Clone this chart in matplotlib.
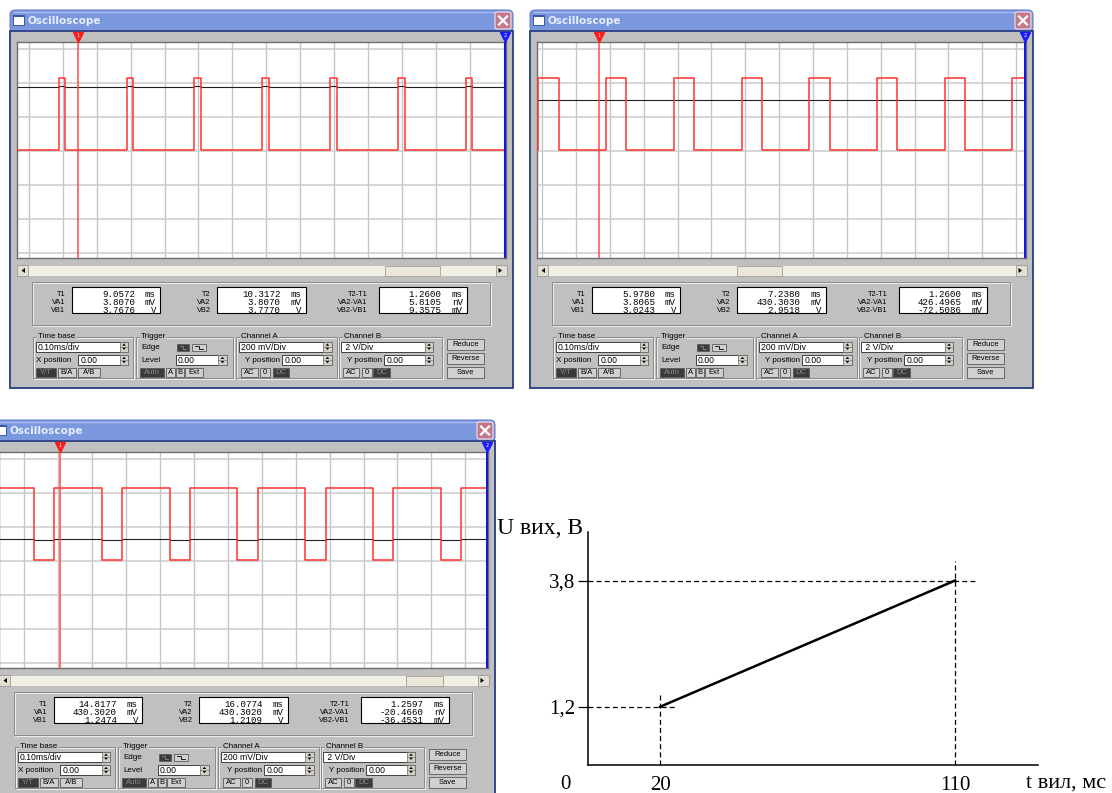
import matplotlib.pyplot as plt
from matplotlib.patches import Rectangle, FancyBboxPatch, Polygon

W, H = 1112, 793

# readouts of the three oscilloscope screenshots
t1_ms = ["9.0572", "5.9780", "14.8177"]
t2_ms = ["10.3172", "7.2380", "16.0774"]
dt_ms = ["1.2600", "1.2600", "1.2597"]
va1 = [("3.8070", "mV"), ("3.8065", "mV"), ("430.3020", "mV")]
va2 = [("3.8070", "mV"), ("430.3030", "mV"), ("430.3020", "mV")]
vb1 = [("3.7676", "V"), ("3.0243", "V"), ("1.2474", "V")]
vb2 = [("3.7770", "V"), ("2.9518", "V"), ("1.2109", "V")]
dva = [("5.8105", "nV"), ("426.4965", "mV"), ("-20.4660", "nV")]
dvb = [("9.3575", "mV"), ("-72.5086", "mV"), ("-36.4531", "mV")]

# cursor times, ms
cursor1 = [9.0572, 5.9780, 14.8177]
cursor2 = [10.3172, 7.2380, 16.0774]

# channel A square wave: rising edges (ms) and pulse width (ms)
pulse_starts = [
    [9.0, 9.2, 9.4, 9.6, 9.8, 10.0, 10.2],
    [5.8, 6.0, 6.2, 6.4, 6.6, 6.8, 7.0, 7.2],
    [14.6, 14.8, 15.0, 15.2, 15.4, 15.6, 15.8, 16.0],
]
pulse_width = [0.02, 0.06, 0.14]
va_high = 0.4303   # V
va_low = 0.0038    # V
vb_level = [3.77, 2.99, 1.27]   # channel B, V
vb_ripple = 0.05
view_ms = [(8.877, 10.319), (5.796, 7.240), (14.637, 16.079)]
grid_first_ms = [8.912, 5.811, 14.712]
volts_per_div = {"A": 0.2, "B": 2.0}

# output voltage vs fill time
t_fill = [20, 110]
u_out = [1.2, 3.8]

BODY = "#c0c0c0"
UI = "Liberation Sans"

fig = plt.figure(figsize=(W / 100, H / 100), dpi=100)
bg = fig.add_axes([0, 0, 1, 1], zorder=0)
bg.set_xlim(0, W)
bg.set_ylim(H, 0)
bg.axis("off")


def px_box(x0, y0, x1, y1):
    return [x0 / W, 1 - y1 / H, (x1 - x0) / W, (y1 - y0) / H]


def rect(x0, y0, x1, y1, fc, ec="none", lw=0.7, z=1):
    bg.add_patch(Rectangle((x0, y0), x1 - x0, y1 - y0, facecolor=fc,
                           edgecolor=ec, linewidth=lw, zorder=z))


def txt(x, y, s, fs=5.8, ha="left", color="black", **kw):
    bg.text(x, y, s, fontsize=fs, ha=ha, va="center", color=color,
            family=kw.pop("family", UI), zorder=5, **kw)


def spinner(x0, y0, x1, y1):
    rect(x0, y0, x1, y1, "#d4d0c8", "#6a6a6a", 0.5, z=3)
    ym = (y0 + y1) / 2
    cx = (x0 + x1) / 2
    bg.plot([x0, x1], [ym, ym], color="#6a6a6a", lw=0.4, zorder=4)
    bg.add_patch(Polygon([[cx - 1.8, ym - 1.0], [cx + 1.8, ym - 1.0], [cx, ym - 3.2]],
                         color="black", lw=0, zorder=4))
    bg.add_patch(Polygon([[cx - 1.8, ym + 1.0], [cx + 1.8, ym + 1.0], [cx, ym + 3.2]],
                         color="black", lw=0, zorder=4))


def field(x0, y0, x1, y1, s):
    rect(x0, y0, x1, y1, "white", "#404040", 0.7, z=2)
    txt(x0 + 2, (y0 + y1) / 2 + 0.5, s, fs=6.2)
    spinner(x1 - 8.5, y0, x1, y1)


def button(x0, y0, x1, y1, s, dark=False):
    rect(x0, y0, x1, y1, "#3a3a3a" if dark else "#d0d0d0", "#5a5a5a", 0.6, z=2)
    txt((x0 + x1) / 2, (y0 + y1) / 2 + 0.3, s, fs=5.5, ha="center",
        color="#8a8a8a" if dark else "black")


def edge_icon(x0, y0, x1, y1, color):
    # small falling/rising edge glyph drawn as a polyline
    xm = (x0 + x1) / 2
    bg.plot([x0 + 3, xm, xm, x1 - 3], [y0 + 2, y0 + 2, y1 - 2, y1 - 2],
            color=color, lw=0.6, zorder=4)


def group(x0, y0, x1, y1, label=None):
    rect(x0 + 1, y0 + 1, x1 + 1, y1 + 1, "none", "white", 0.5, z=1)
    rect(x0, y0, x1, y1, "none", "#8a8a8a", 0.7, z=1)
    if label:
        txt(x0 + 5, y0, label, fs=5.8,
            bbox=dict(facecolor=BODY, edgecolor="none", pad=0.8))


def square(starts, width, lo, hi, t0, t1):
    xs, ys = [t0], [lo]
    for s in starts:
        xs += [s, s, s + width, s + width]
        ys += [lo, hi, hi, lo]
    xs.append(t1)
    ys.append(lo)
    return xs, ys


def draw_window(i, dx, dy):
    X = lambda x: x + dx
    Y = lambda y: y + dy

    # frame and title bar
    bg.add_patch(FancyBboxPatch((X(10), Y(10)), 503, 22,
                                boxstyle="round,pad=0,rounding_size=5",
                                fc="#7b97dd", ec="#6882cc", lw=0.8, zorder=1))
    rect(X(10), Y(31), X(513), Y(388), BODY, "#34488a", 1.4, z=1)
    bg.plot([X(14), X(509)], [Y(11.5), Y(11.5)], color="#a9bdf2", lw=1, zorder=2)
    rect(X(13), Y(15), X(24), Y(25), "white", "#3a55a8", 0.7, z=2)
    rect(X(13), Y(15), X(24), Y(17), "#3a55a8", z=2)
    txt(X(28), Y(21.5), "Oscilloscope", fs=7.5, color="#e6edfb",
        weight="bold", family="DejaVu Sans")
    bg.add_patch(FancyBboxPatch((X(495), Y(12)), 16, 17,
                                boxstyle="round,pad=0,rounding_size=2",
                                fc="#c4788a", ec="#efe2ee", lw=0.8, zorder=2))
    bg.plot([X(499), X(507)], [Y(16.5), Y(24.5)], color="white", lw=1.6, zorder=3)
    bg.plot([X(499), X(507)], [Y(24.5), Y(16.5)], color="white", lw=1.6, zorder=3)

    # scrollbar
    rect(X(17), Y(265), X(507), Y(276), "#f1efe4", "#b8b8b8", 0.6, z=2)
    thumb = [(385, 440), (737, 782), (406, 443)][i]
    rect(thumb[0], Y(265.5), thumb[1], Y(275.5), "#ebe8da", "#a09e92", 0.6, z=3)
    for bx0, pts in ((17, [[25, 268], [25, 273], [21.5, 270.5]]),
                     (496, [[498.5, 268], [498.5, 273], [502, 270.5]])):
        rect(X(bx0), Y(265), X(bx0 + 11), Y(276), "#e3e0d2", "#9a9a9a", 0.6, z=3)
        bg.add_patch(Polygon([[X(p[0]), Y(p[1])] for p in pts], color="black",
                             lw=0, zorder=4))

    # readout panel
    group(X(32), Y(282), X(490), Y(325))
    boxes = [(72.3, 160), (217.3, 305.7), (379, 466.7)]
    label_x = [65, 210.7, 367.7]
    labels = [["T1", "VA1", "VB1"], ["T2", "VA2", "VB2"],
              ["T2-T1", "VA2-VA1", "VB2-VB1"]]
    values = [[(t1_ms[i], "ms"), va1[i], vb1[i]],
              [(t2_ms[i], "ms"), va2[i], vb2[i]],
              [(dt_ms[i], "ms"), dva[i], dvb[i]]]
    rows = [294.2, 302.2, 310.2]
    for b in range(3):
        rect(X(boxes[b][0]), Y(286.7), X(boxes[b][1]), Y(312.7), "white", "black", 0.8, z=2)
        for r in range(3):
            txt(X(label_x[b]), Y(rows[r]), labels[b][r], fs=5.3, ha="right")
            v, u = values[b][r]
            txt(X(boxes[b][1] - 25), Y(rows[r]), v, fs=6.6, ha="right",
                family="Liberation Mono")
            txt(X(boxes[b][1] - 4), Y(rows[r]), u, fs=6.6, ha="right",
                family="Liberation Mono")

    # control groups
    group(X(33.3), Y(336.7), X(133.3), Y(378), "Time base")
    field(X(35.7), Y(341.7), X(128.3), Y(351.7), "0.10ms/div")
    txt(X(36), Y(360.5), "X position", fs=5.8)
    field(X(78.3), Y(355), X(128.3), Y(365), "0.00")
    button(X(36), Y(367.7), X(56), Y(376.7), "Y/T", True)
    button(X(58), Y(367.7), X(76), Y(376.7), "B/A")
    button(X(78), Y(367.7), X(100), Y(376.7), "A/B")

    group(X(136), Y(336.7), X(233.3), Y(378), "Trigger")
    txt(X(141.7), Y(347.5), "Edge", fs=5.8)
    button(X(176.7), Y(344), X(189.3), Y(350.7), "", True)
    edge_icon(X(176.7), Y(344), X(189.3), Y(350.7), "#8a8a8a")
    button(X(192.3), Y(344), X(205.7), Y(350.7), "")
    edge_icon(X(192.3), Y(344), X(205.7), Y(350.7), "black")
    txt(X(141.7), Y(360.5), "Level", fs=5.8)
    field(X(175.7), Y(355), X(226.7), Y(365), "0.00")
    button(X(140), Y(367.7), X(164.3), Y(376.7), "Auto", True)
    button(X(165.7), Y(367.7), X(175), Y(376.7), "A")
    button(X(175.7), Y(367.7), X(184), Y(376.7), "B")
    button(X(185), Y(367.7), X(203.3), Y(376.7), "Ext")

    group(X(236), Y(336.7), X(336.7), Y(378), "Channel A")
    field(X(239.3), Y(341.7), X(331.7), Y(351.7), "200 mV/Div")
    txt(X(245), Y(360.5), "Y position", fs=5.8)
    field(X(282.3), Y(355), X(331.7), Y(365), "0.00")
    button(X(241), Y(367.7), X(257.7), Y(376.7), "AC")
    button(X(260), Y(367.7), X(270), Y(376.7), "0")
    button(X(272.7), Y(367.7), X(289.3), Y(376.7), "DC", True)

    group(X(339), Y(336.7), X(441.7), Y(378), "Channel B")
    field(X(341), Y(341.7), X(433.3), Y(351.7), " 2 V/Div")
    txt(X(346.7), Y(360.5), "Y position", fs=5.8)
    field(X(384.3), Y(355), X(433.3), Y(365), "0.00")
    button(X(343.3), Y(367.7), X(359.3), Y(376.7), "AC")
    button(X(361.7), Y(367.7), X(371.7), Y(376.7), "0")
    button(X(373.3), Y(367.7), X(390), Y(376.7), "DC", True)

    button(X(446.7), Y(339), X(484), Y(350), "Reduce")
    button(X(446.7), Y(353.3), X(484), Y(364), "Reverse")
    button(X(446.7), Y(366.7), X(484), Y(378), "Save")

    # screen
    ax = fig.add_axes(px_box(X(17), Y(42), X(506), Y(258)), zorder=2)
    t0, t1 = view_ms[i]
    ax.set_xlim(t0, t1)
    ax.set_ylim(-3.16, 3.22)
    ax.set_facecolor("white")
    gx = [grid_first_ms[i] + 0.1 * k for k in range(15)]
    for g in gx:
        ax.axvline(g, color="#c6c6c6", lw=1.0, zorder=1)
    for g in range(-3, 4):
        ax.axhline(g, color="#cccccc", lw=1.1, zorder=1)
    xs, ys = square(pulse_starts[i], pulse_width[i], va_low, va_high, t0 - 0.2, t1 + 0.2)
    ax.plot(xs, [v / volts_per_div["A"] for v in ys], color="#ff3030", lw=1.1, zorder=3)
    xs, ys = square(pulse_starts[i], pulse_width[i], vb_level[i],
                    vb_level[i] + vb_ripple, t0 - 0.2, t1 + 0.2)
    ax.plot(xs, [v / volts_per_div["B"] for v in ys], color="#202020", lw=0.8, zorder=2)
    ax.axvline(cursor1[i], color="#ff4a4a", lw=1.1, zorder=4)
    ax.axvline(cursor2[i], color="#1010e0", lw=1.4, zorder=4)
    tr = ax.get_xaxis_transform()
    for c, col, lab in ((cursor1[i], "#ff1a1a", "1"), (cursor2[i], "#1a1aff", "2")):
        ax.plot(c, 1.022, marker="v", ms=7, color=col, transform=tr, clip_on=False, zorder=5)
        ax.text(c, 1.03, lab, fontsize=3.5, color="white", ha="center", va="center",
                transform=tr, clip_on=False, zorder=6)
    ax.set_xticks([])
    ax.set_yticks([])
    for s in ax.spines.values():
        s.set_color("#6e6e6e")
        s.set_linewidth(1.0)


offsets = [(0, 0), (520, 0), (-18, 410)]
for i, (dx, dy) in enumerate(offsets):
    draw_window(i, dx, dy)

# output voltage vs fill time sketch
gax = fig.add_axes(px_box(588, 532, 1038, 765), zorder=2)
gax.patch.set_alpha(0)
gax.set_xlim(-2, 135.3)
gax.set_ylim(0, 4.8)
for side in ("top", "right"):
    gax.spines[side].set_visible(False)
for side in ("left", "bottom"):
    gax.spines[side].set_linewidth(1.1)
dash = dict(color="black", lw=0.9, dashes=(4, 2.5))
gax.plot([-2, t_fill[1] + 6], [u_out[1], u_out[1]], **dash)
gax.plot([-2, t_fill[0] + 5], [u_out[0], u_out[0]], **dash)
gax.plot([t_fill[0], t_fill[0]], [0, u_out[0] + 0.3], **dash)
gax.plot([t_fill[1], t_fill[1]], [0, u_out[1] + 0.4], **dash)
gax.plot(t_fill, u_out, color="black", lw=1.8)
serif = "Liberation Serif"
gax.set_yticks(u_out)
gax.set_yticklabels([f"{v:.1f}".replace(".", ",") for v in u_out],
                    family=serif, fontsize=15)
gax.set_xticks(t_fill)
gax.set_xticklabels([str(t) for t in t_fill], family=serif, fontsize=15)
gax.tick_params(axis="y", length=7, width=0.9, pad=2)
gax.tick_params(axis="x", length=0, pad=8)
gax.text(-9, -0.4, "0", family=serif, fontsize=15, ha="center", va="center",
         clip_on=False)
bg.text(497, 529, "U вих, В", family=serif, fontsize=17, ha="left", va="center")
bg.text(1026, 783, "t вил, мс", family=serif, fontsize=16, ha="left", va="center")

fig.savefig("out.png", dpi=100)
